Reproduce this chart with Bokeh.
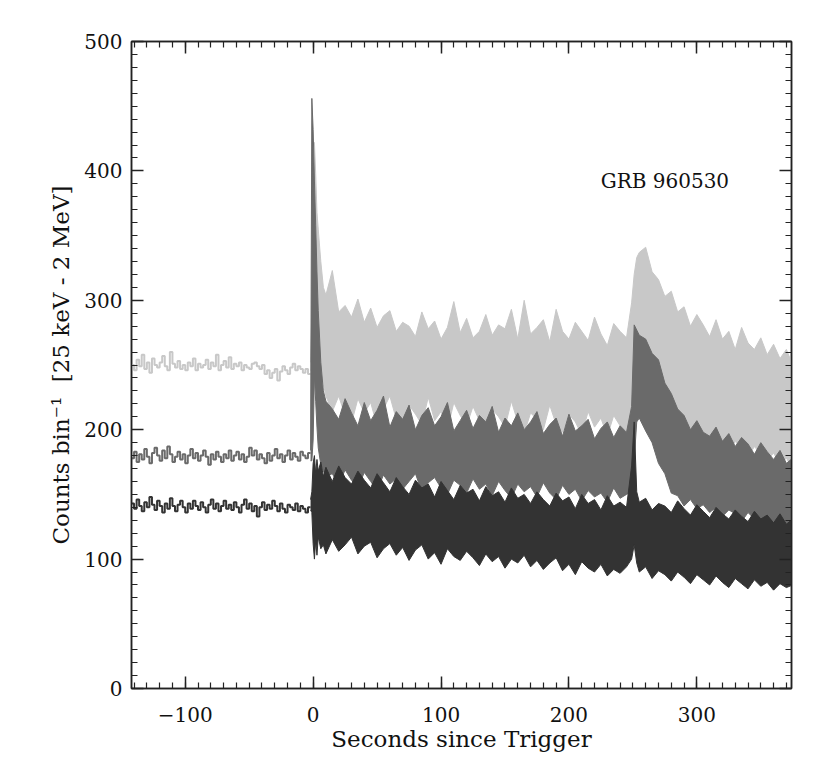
from bokeh.plotting import figure
from bokeh.models import (LinearAxis, SingleIntervalTicker, Range1d,
                          CustomJSTickFormatter, Label)
from bokeh.embed import file_html
from bokeh.resources import INLINE

# ---------------- data ----------------
# pre-trigger 2-s bins, from -142 s to -2 s
light_pre = [250, 246, 254, 249, 258, 247, 252, 244, 255, 250,
             248, 252, 257, 249, 246, 260, 251, 248, 253, 247,
             250, 246, 252, 249, 255, 246, 251, 248, 250, 254,
             247, 252, 249, 258, 246, 250, 253, 248, 256, 247,
             251, 249, 252, 246, 250, 248, 247, 251, 252, 249,
             247, 250, 243, 246, 240, 244, 247, 238, 245, 249,
             246, 243, 248, 251, 246, 249, 247, 244, 247, 243]
mid_pre = [178, 183, 175, 181, 177, 185, 179, 174, 182, 186,
           180, 176, 184, 178, 187, 181, 175, 179, 183, 177,
           181, 174, 180, 185, 178, 182, 176, 180, 184, 179,
           173, 181, 177, 183, 179, 175, 181, 178, 184, 176,
           180, 183, 177, 181, 175, 179, 186, 180, 184, 177,
           181, 178, 174, 182, 176, 180, 185, 178, 181, 175,
           180, 184, 177, 182, 179, 176, 183, 180, 178, 182]
dark_pre = [143, 139, 146, 141, 137, 144, 140, 148, 142, 138,
            145, 141, 136, 143, 139, 147, 141, 137, 142, 145,
            140, 136, 143, 139, 145, 141, 138, 144, 140, 136,
            142, 146, 139, 143, 137, 141, 145, 139, 142, 138,
            144, 140, 136, 142, 146, 139, 143, 137, 141, 133,
            140, 144, 138, 142, 139, 145, 141, 137, 143, 139,
            136, 142, 140, 138, 143, 137, 141, 139, 136, 140]
pre_start = -142
pre_end = -2

# post-trigger: upper / lower envelopes of the densely sampled light curves
t_post = [-2, -1, 0, 1, 2, 3, 4, 6, 8, 10,
          15, 20, 25, 30, 35, 40, 45, 50, 55, 60,
          65, 70, 75, 80, 85, 90, 95, 100, 105, 110,
          115, 120, 125, 130, 135, 140, 145, 150, 155, 160,
          165, 170, 175, 180, 185, 190, 195, 200, 205, 210,
          215, 220, 225, 230, 235, 240, 245, 249, 251, 253,
          255, 260, 265, 270, 275, 280, 285, 290, 295, 300,
          305, 310, 315, 320, 325, 330, 335, 340, 345, 350,
          355, 360, 365, 370, 375]
light_hi = [252, 292, 392, 422, 398, 368, 355, 330, 310, 304,
            323, 291, 296, 287, 301, 283, 294, 279, 288, 292,
            276, 283, 280, 272, 291, 278, 284, 270, 279, 299,
            275, 286, 271, 276, 289, 273, 281, 278, 293, 270,
            300, 274, 279, 285, 268, 293, 276, 270, 283, 276,
            269, 287, 274, 265, 282, 276, 271, 298, 320, 333,
            337, 341, 322, 316, 303, 307, 291, 295, 280, 289,
            281, 272, 285, 270, 276, 262, 279, 267, 262, 271,
            258, 266, 255, 262, 250]
light_lo = [246, 246, 252, 292, 282, 268, 256, 246, 235, 226,
            214, 226, 211, 205, 224, 213, 221, 203, 216, 226,
            208, 201, 219, 212, 204, 225, 207, 214, 200, 221,
            211, 203, 218, 207, 199, 216, 210, 202, 222, 206,
            197, 213, 208, 200, 219, 204, 198, 212, 206, 196,
            214, 202, 209, 195, 211, 203, 199, 204, 222, 233,
            238, 230, 228, 219, 216, 208, 205, 199, 200, 191,
            197, 188, 194, 190, 183, 191, 185, 179, 187, 181,
            176, 182, 173, 178, 170]
mid_hi = [184, 456, 432, 393, 358, 322, 292, 252, 230, 222,
          216, 208, 224, 213, 203, 221, 207, 215, 226, 202,
          214, 208, 219, 200, 211, 217, 203, 210, 221, 199,
          207, 215, 201, 211, 206, 218, 198, 209, 203, 213,
          200, 206, 214, 197, 204, 209, 195, 212, 199, 203,
          208, 193, 201, 206, 194, 203, 198, 218, 281, 277,
          273, 270, 259, 254, 236, 228, 216, 211, 200, 207,
          198, 195, 202, 191, 197, 187, 194, 189, 181, 190,
          183, 177, 184, 174, 178]
mid_lo = [176, 176, 192, 242, 222, 202, 186, 173, 168, 164,
          166, 157, 169, 161, 155, 167, 160, 153, 165, 158,
          162, 154, 160, 166, 152, 159, 163, 155, 150, 161,
          157, 151, 162, 154, 158, 149, 160, 153, 147, 158,
          152, 156, 148, 159, 151, 146, 157, 150, 154, 145,
          153, 148, 151, 144, 155, 147, 150, 152, 176, 206,
          209, 199, 190, 174, 166, 151, 149, 141, 146, 139,
          142, 136, 140, 133, 138, 135, 129, 136, 131, 127,
          133, 126, 130, 124, 127]
dark_hi = [146, 152, 174, 180, 166, 177, 168, 175, 164, 171,
           160, 172, 163, 158, 168, 161, 155, 166, 159, 152,
           163, 156, 150, 161, 155, 158, 148, 160, 153, 146,
           157, 151, 154, 145, 156, 149, 152, 144, 155, 147,
           150, 143, 152, 146, 141, 151, 145, 148, 139, 150,
           143, 146, 138, 149, 141, 144, 140, 172, 206, 152,
           144, 147, 138, 143, 141, 136, 145, 139, 134, 142,
           137, 132, 140, 135, 131, 138, 133, 129, 137, 131,
           134, 128, 135, 127, 131]
dark_lo = [138, 136, 112, 100, 114, 103, 117, 108, 111, 104,
           115, 106, 111, 117, 104, 110, 113, 101, 108, 112,
           103, 109, 99, 107, 111, 100, 105, 96, 108, 102,
           99, 106, 101, 95, 104, 98, 102, 93, 100, 97,
           103, 94, 99, 92, 97, 101, 91, 96, 88, 98,
           93, 90, 96, 87, 92, 89, 94, 100, 111, 97,
           90, 94, 85, 91, 88, 83, 90, 86, 81, 88,
           84, 80, 87, 82, 78, 85, 81, 77, 84, 79,
           82, 76, 81, 78, 80]

x_ticks_interval = 100
y_ticks_interval = 100
title_text = "GRB 960530"
x_label = "Seconds since Trigger"
y_label = "Counts bin\u207b\u00b9\u00a0\u00a0[25 keV - 2 MeV]"

colors = {"light": "#c8c8c8", "mid": "#6a6a6a", "dark": "#333333"}

# ---------------- figure ----------------
FONT = "DejaVu Serif"
p = figure(width=814, height=756, output_backend="svg", toolbar_location=None,
           x_range=Range1d(-142, 374), y_range=Range1d(0, 500),
           min_border_left=131, min_border_right=23, min_border_top=41,
           min_border_bottom=68)
p.background_fill_color = "white"
p.border_fill_color = "white"
p.grid.visible = False
p.outline_line_color = "#222222"
p.outline_line_width = 1.5


def style_axis(ax, ticker, labels=True):
    ax.ticker = ticker
    ax.major_tick_in = 12
    ax.major_tick_out = 0
    ax.minor_tick_in = 6
    ax.minor_tick_out = 0
    ax.axis_line_color = "#222222"
    ax.axis_line_width = 1.5
    ax.major_tick_line_color = "#222222"
    ax.major_tick_line_width = 1.5
    ax.minor_tick_line_color = "#222222"
    ax.minor_tick_line_width = 1.2
    ax.major_label_text_font = FONT
    ax.major_label_text_font_size = "20px"
    ax.major_label_text_color = "#111111" if labels else None
    ax.axis_label_text_font = FONT
    ax.axis_label_text_font_style = "normal"
    ax.axis_label_text_font_size = "23px"
    ax.axis_label_text_color = "#111111"


fmt = CustomJSTickFormatter(code="return tick < 0 ? '\\u2212' + Math.abs(tick) : String(tick);")
xt = SingleIntervalTicker(interval=x_ticks_interval, num_minor_ticks=10)
yt = SingleIntervalTicker(interval=y_ticks_interval, num_minor_ticks=10)

style_axis(p.xaxis[0], xt)
p.xaxis[0].formatter = fmt
p.xaxis[0].axis_label = x_label
p.xaxis[0].major_label_standoff = 18
p.xaxis[0].axis_label_standoff = 1

style_axis(p.yaxis[0], yt)
p.yaxis[0].axis_label = y_label
p.yaxis[0].major_label_standoff = 9
p.yaxis[0].axis_label_standoff = 7

top = LinearAxis()
style_axis(top, SingleIntervalTicker(interval=x_ticks_interval, num_minor_ticks=10), labels=False)
p.add_layout(top, "above")
right = LinearAxis()
style_axis(right, SingleIntervalTicker(interval=y_ticks_interval, num_minor_ticks=10), labels=False)
p.add_layout(right, "right")

# ---------------- series ----------------
n = len(light_pre)
w = (pre_end - pre_start) / n
x_pre = [pre_start + i * w for i in range(n + 1)]

for name, pre, lo, hi in [("light", light_pre, light_lo, light_hi),
                          ("mid", mid_pre, mid_lo, mid_hi),
                          ("dark", dark_pre, dark_lo, dark_hi)]:
    c = colors[name]
    p.varea(x=t_post, y1=lo, y2=hi, fill_color=c, fill_alpha=1.0)
    p.line(x=t_post, y=hi, line_color=c, line_width=1)
    p.line(x=t_post, y=lo, line_color=c, line_width=1)
    p.step(x=x_pre, y=pre + [pre[-1]], mode="after", line_color=c, line_width=2)

p.add_layout(Label(x=275, y=392, text=title_text, text_align="center",
                   text_baseline="middle", text_font=FONT,
                   text_font_size="20px", text_color="#111111"))

open("out.html", "w").write(file_html(p, INLINE))
